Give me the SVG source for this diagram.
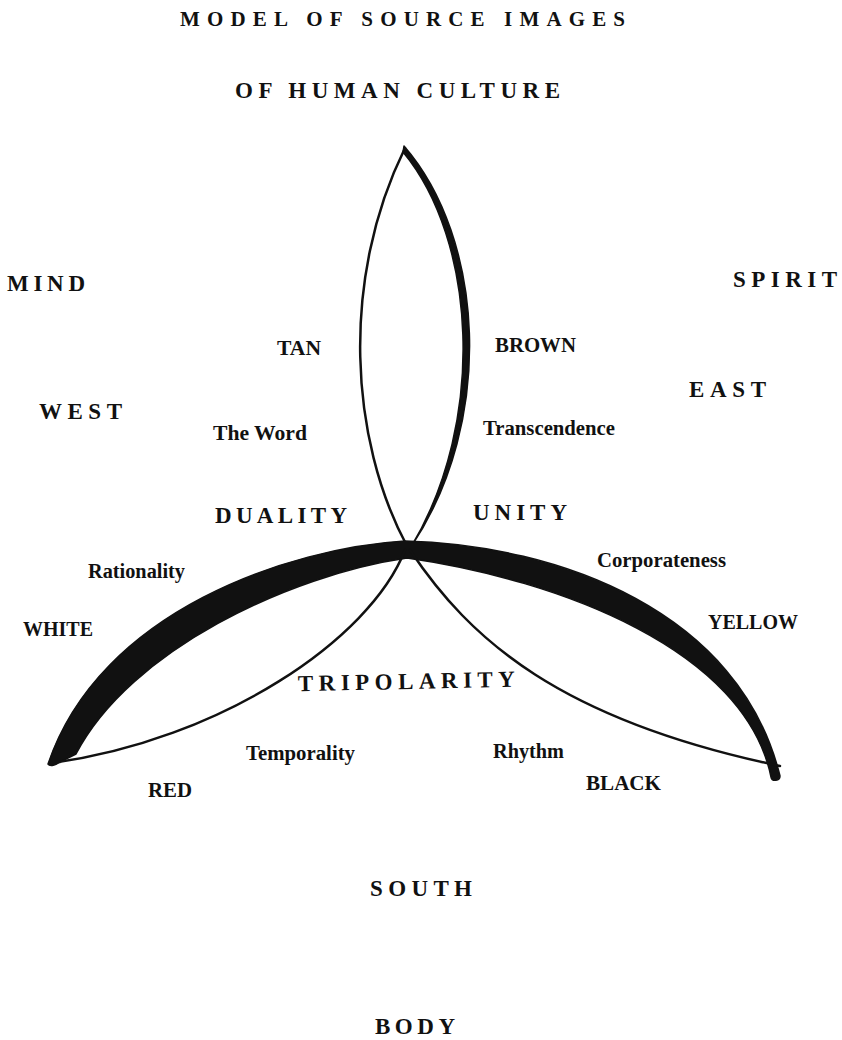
<svg xmlns="http://www.w3.org/2000/svg" width="842" height="1040" viewBox="0 0 842 1040">
<style>
text{font-family:"Liberation Serif","Times New Roman",serif;font-weight:bold;fill:#111}
.t{font-size:21px}
.c{font-size:23px}
.l{font-size:20px}
.thin{fill:none;stroke:#111;stroke-width:2.5;stroke-linecap:round}
.thick{fill:#111;stroke:#111;stroke-width:1.5;stroke-linejoin:round}
</style>
<rect width="842" height="1040" fill="#fff"/>
<g id="figure">
<path class="thin" d="M 407 546 C 350 440, 340 280, 405 148"/>
<path class="thick" d="M 404 146 C 484 238, 496 420, 411 547 C 487 420, 476 240, 403 152 Z"/>
<path class="thick" d="M 48 764 C 100 610, 290 548, 405 541 C 560 545, 740 612, 780 776 C 780 781, 772 782, 771 777 C 745 650, 560 580, 407 558 C 290 575, 130 650, 76 754 L 60 762 C 56 765, 50 767, 48 764 Z"/>
<path class="thin" d="M 405 550 C 370 640, 220 740, 52 763"/>
<path class="thin" d="M 410 550 C 470 640, 560 720, 780 766"/>
</g>
<g id="title">
<text class="t" x="180" y="26" textLength="445" lengthAdjust="spacing">MODEL OF SOURCE IMAGES</text>
<text class="c" x="235" y="98" textLength="325" lengthAdjust="spacing">OF HUMAN CULTURE</text>
</g>
<g id="mind"><text class="c" x="7" y="291" textLength="78" lengthAdjust="spacing">MIND</text></g>
<g id="spirit"><text class="c" x="733" y="287" textLength="104" lengthAdjust="spacing">SPIRIT</text></g>
<g id="west"><text class="c" x="39" y="419" textLength="83" lengthAdjust="spacing">WEST</text></g>
<g id="east"><text class="c" x="689" y="397" textLength="77" lengthAdjust="spacing">EAST</text></g>
<g id="tan"><text class="l" x="277" y="355" textLength="44" lengthAdjust="spacingAndGlyphs">TAN</text></g>
<g id="brown"><text class="l" x="495" y="352" textLength="81" lengthAdjust="spacingAndGlyphs">BROWN</text></g>
<g id="theword"><text class="l" x="213" y="440" textLength="94" lengthAdjust="spacingAndGlyphs">The Word</text></g>
<g id="transcendence"><text class="l" x="483" y="435" textLength="132" lengthAdjust="spacingAndGlyphs">Transcendence</text></g>
<g id="duality"><text class="c" x="215" y="523" textLength="132" lengthAdjust="spacing">DUALITY</text></g>
<g id="unity"><text class="c" x="473" y="520" textLength="94" lengthAdjust="spacing">UNITY</text></g>
<g id="rationality"><text class="l" x="88" y="578" textLength="97" lengthAdjust="spacingAndGlyphs">Rationality</text></g>
<g id="corporateness"><text class="l" x="597" y="567" textLength="129" lengthAdjust="spacingAndGlyphs">Corporateness</text></g>
<g id="white"><text class="l" x="23" y="636" textLength="70" lengthAdjust="spacingAndGlyphs">WHITE</text></g>
<g id="yellow"><text class="l" x="708" y="629" textLength="90" lengthAdjust="spacingAndGlyphs">YELLOW</text></g>
<g id="tripolarity"><text class="c" x="298" y="689" textLength="217" lengthAdjust="spacing" transform="rotate(-1.2 406 689)">TRIPOLARITY</text></g>
<g id="temporality"><text class="l" x="246" y="760" textLength="109" lengthAdjust="spacingAndGlyphs">Temporality</text></g>
<g id="rhythm"><text class="l" x="493" y="758" textLength="71" lengthAdjust="spacingAndGlyphs">Rhythm</text></g>
<g id="red"><text class="l" x="148" y="797" textLength="44" lengthAdjust="spacingAndGlyphs">RED</text></g>
<g id="black"><text class="l" x="586" y="790" textLength="75" lengthAdjust="spacingAndGlyphs">BLACK</text></g>
<g id="south"><text class="c" x="370" y="896" textLength="102" lengthAdjust="spacing">SOUTH</text></g>
<g id="body"><text class="c" x="375" y="1034" textLength="80" lengthAdjust="spacing">BODY</text></g>
</svg>
